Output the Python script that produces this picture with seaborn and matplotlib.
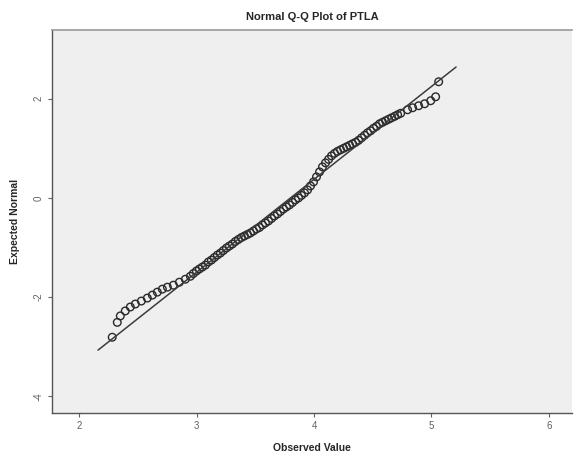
"""
Normal Q-Q Plot of PTLA (SPSS style)
"""
import numpy as np
import pandas as pd
import matplotlib
matplotlib.use('Agg')
import matplotlib.pyplot as plt
import seaborn as sns

observed = [
    2.281, 2.324, 2.350, 2.392, 2.435, 2.478, 2.529, 2.580, 2.623, 2.665,
    2.708, 2.751, 2.802, 2.853, 2.904, 2.947,
    2.972, 2.998, 3.023, 3.049, 3.075, 3.100, 3.126, 3.151, 3.177, 3.203,
    3.228, 3.254, 3.279, 3.305, 3.330, 3.356, 3.382, 3.407, 3.433, 3.458,
    3.484, 3.510, 3.535, 3.561, 3.586, 3.612, 3.638, 3.663, 3.689, 3.714,
    3.740, 3.765, 3.791, 3.817, 3.842, 3.868, 3.893, 3.919, 3.945, 3.970,
    3.996, 4.021, 4.047, 4.072, 4.098, 4.124, 4.149, 4.175, 4.200, 4.226,
    4.252, 4.277, 4.303, 4.328, 4.354, 4.380, 4.405, 4.431, 4.456, 4.482,
    4.507, 4.533, 4.559, 4.584, 4.610, 4.635, 4.661, 4.687, 4.712, 4.738,
    4.797, 4.840, 4.891, 4.942, 4.994, 5.036, 5.062,
]
expected = [
    -2.81, -2.51, -2.38, -2.28, -2.20, -2.14, -2.08, -2.02, -1.96, -1.90,
    -1.84, -1.80, -1.76, -1.70, -1.64, -1.58,
    -1.525, -1.475, -1.434, -1.394, -1.354, -1.293, -1.253, -1.202, -1.152, -1.111,
    -1.061, -1.010, -0.970, -0.929, -0.879, -0.838, -0.798, -0.768, -0.737, -0.707,
    -0.667, -0.626, -0.596, -0.545, -0.505, -0.465, -0.414, -0.364, -0.323, -0.273,
    -0.222, -0.182, -0.141, -0.091, -0.040, 0.000, 0.051, 0.101, 0.162, 0.242,
    0.323, 0.424, 0.525, 0.626, 0.707, 0.778, 0.848, 0.899, 0.939, 0.970,
    1.000, 1.030, 1.061, 1.091, 1.121, 1.162, 1.212, 1.263, 1.313, 1.354,
    1.404, 1.444, 1.495, 1.525, 1.556, 1.586, 1.616, 1.646, 1.677, 1.707,
    1.778, 1.818, 1.859, 1.899, 1.960, 2.040, 2.343,
]
# reference line end points
ref_x = [2.16, 5.21]
ref_y = [-3.07, 2.64]

x_ticks = [2, 3, 4, 5, 6]
y_ticks = [-4, -2, 0, 2]

sns.set_style('white')
plt.rcParams['font.family'] = ['Liberation Sans', 'DejaVu Sans']

df = pd.DataFrame({'Observed Value': observed, 'Expected Normal': expected})
ref = pd.DataFrame({'x': ref_x, 'y': ref_y})

fig = plt.figure(figsize=(5.74, 4.59), dpi=100)
ax = fig.add_axes([0.091, 0.100, 0.906, 0.835])
ax.set_facecolor('#EFEFEF')

sns.lineplot(data=ref, x='x', y='y', color='#3c3c3c', linewidth=1.1, ax=ax)
sns.scatterplot(data=df, x='Observed Value', y='Expected Normal', marker='o',
                s=30, facecolor='none', edgecolor='#2a2a2a', linewidth=1.0, ax=ax)

ax.set_xlim(1.77, 6.2)
ax.set_ylim(-4.34, 3.39)
ax.set_xticks(x_ticks)
ax.set_yticks(y_ticks)
ax.set_xticklabels([str(t) for t in x_ticks], fontsize=7, color='#606060')
ax.set_yticklabels([str(t) for t in y_ticks], fontsize=7, color='#606060',
                   rotation=90, va='center')
ax.tick_params(axis='both', direction='out', length=3, width=0.8, color='#606060',
               bottom=True, left=True, pad=3)

for side in ['left', 'bottom']:
    ax.spines[side].set_color('#555555')
    ax.spines[side].set_linewidth(1.0)
ax.spines['top'].set_color('#999999')
ax.spines['top'].set_linewidth(1.2)
ax.spines['right'].set_visible(False)

ax.set_xlabel('Observed Value', fontsize=7.5, fontweight='bold', labelpad=8)
ax.set_ylabel('Expected Normal', fontsize=7.5, fontweight='bold', labelpad=10)
ax.set_title('Normal Q-Q Plot of PTLA', fontsize=8, fontweight='bold', pad=7)

plt.savefig('out.png', dpi=100, facecolor='white')
plt.close()
